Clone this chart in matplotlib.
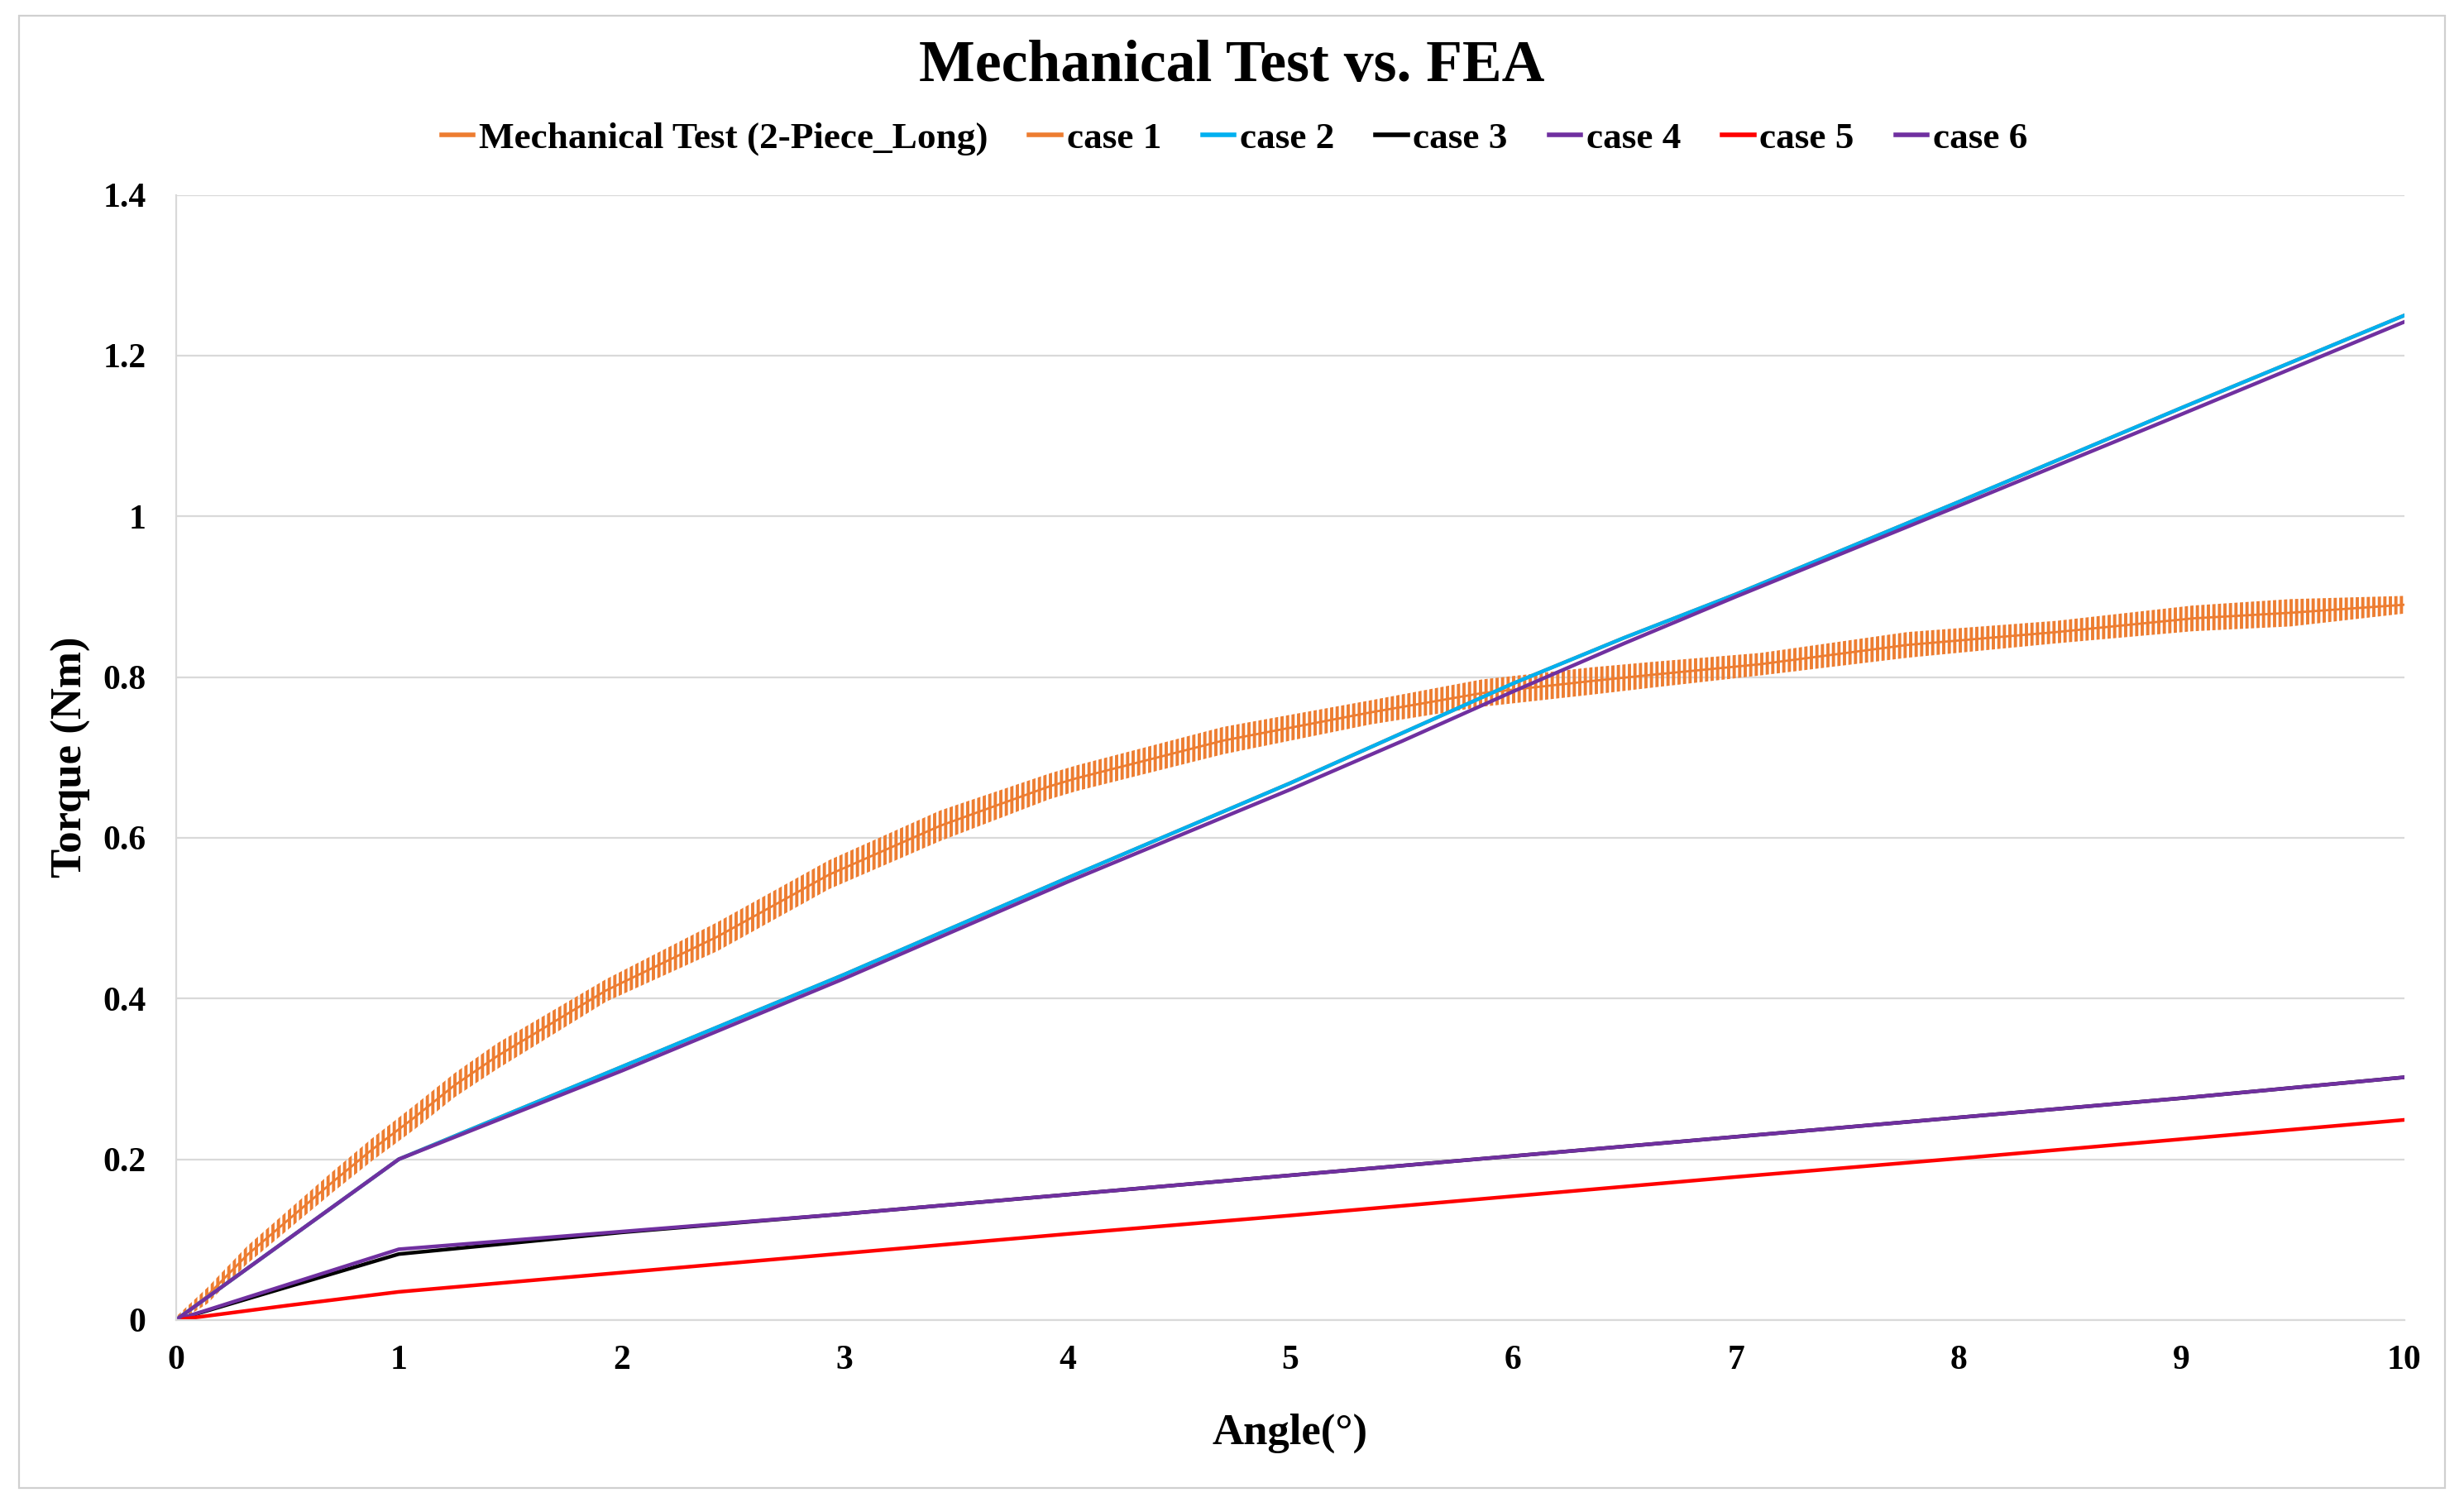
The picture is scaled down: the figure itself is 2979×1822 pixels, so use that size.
import numpy as np
import matplotlib
matplotlib.use("Agg")
from matplotlib import pyplot as plt
from matplotlib.patches import Rectangle

plt.rcParams['font.family'] = ['Liberation Serif', 'DejaVu Serif']
plt.rcParams['font.weight'] = 'bold'
plt.rcParams['axes.labelweight'] = 'bold'
plt.rcParams['hatch.linewidth'] = 1.4

# mechanical test: centre of the band and half its height
mech_angle = [0, 0.14, 0.32, 0.51, 0.70, 0.88, 1.07, 1.25, 1.44, 1.93, 2.43, 2.93,
              3.43, 3.92, 4.04, 4.70, 5.36, 5.86, 6.35, 6.63, 7.11, 7.77, 8.44,
              9.05, 9.49, 10.0]
mech_torque = [0, 0.03, 0.081, 0.126, 0.171, 0.212, 0.252, 0.292, 0.328, 0.41,
               0.477, 0.554, 0.615, 0.664, 0.674, 0.721, 0.756, 0.78, 0.795,
               0.803, 0.816, 0.84, 0.856, 0.873, 0.88, 0.89]
mech_spread = [0.004, 0.01, 0.011, 0.012, 0.013, 0.014, 0.015, 0.015, 0.016,
               0.014, 0.018, 0.018, 0.019, 0.016, 0.016, 0.017, 0.015, 0.017,
               0.017, 0.016, 0.014, 0.016, 0.014, 0.016, 0.017, 0.011]

angle_fea = [0, 1, 2, 3, 4, 5, 5.5, 6, 6.5, 7, 8, 9, 10]
case1 = [0, 0.2, 0.315, 0.43, 0.55, 0.668, 0.73, 0.792, 0.849, 0.903, 1.018, 1.135, 1.25]
case2 = [0, 0.2, 0.315, 0.43, 0.55, 0.668, 0.73, 0.792, 0.849, 0.903, 1.018, 1.135, 1.25]
case6 = [0, 0.2, 0.31, 0.425, 0.545, 0.66, 0.72, 0.782, 0.842, 0.9, 1.013, 1.127, 1.242]

angle_low = [0, 0.5, 1, 2, 3, 4, 5, 6, 7, 8, 9, 10]
case3 = [0, 0.041, 0.082, 0.109, 0.132, 0.156, 0.18, 0.204, 0.228, 0.252, 0.276, 0.302]
case4 = [0, 0.044, 0.088, 0.11, 0.132, 0.156, 0.18, 0.204, 0.228, 0.252, 0.276, 0.302]
case5 = [0, 0.018, 0.035, 0.059, 0.083, 0.107, 0.13, 0.154, 0.178, 0.201, 0.225, 0.249]

ORANGE = '#ED7D31'
CYAN = '#00B0F0'
PURPLE = '#7030A0'
RED = '#FF0000'

fig = plt.figure(figsize=(14.895, 9.11), dpi=200)
fig.patches.append(Rectangle((0.0077, 0.0125), 0.9847, 0.977, transform=fig.transFigure,
                             fill=False, edgecolor='#D0D0D0', linewidth=0.8))
ax = fig.add_axes([0.0714, 0.1241, 0.9044, 0.7466])

lo = np.array(mech_torque) - np.array(mech_spread)
hi = np.array(mech_torque) + np.array(mech_spread)
ax.fill_between(mech_angle, lo, hi, facecolor='none', edgecolor=ORANGE,
                hatch='|||||', linewidth=0)
ax.plot(mech_angle, mech_torque, color=ORANGE, lw=1.0, label='Mechanical Test (2-Piece_Long)')
ax.plot(angle_fea, case1, color=ORANGE, lw=1.6, label='case 1')
ax.plot(angle_fea, case2, color=CYAN, lw=1.6, label='case 2')
ax.plot(angle_low, case3, color='black', lw=1.6, label='case 3')
ax.plot(angle_low, case4, color=PURPLE, lw=1.6, label='case 4')
ax.plot(angle_low, case5, color=RED, lw=1.6, label='case 5')
ax.plot(angle_fea, case6, color=PURPLE, lw=1.6, label='case 6')

ax.set_xlim(0, 10)
ax.set_ylim(0, 1.4)
ax.set_xticks(range(0, 11))
ax.set_yticks([0, 0.2, 0.4, 0.6, 0.8, 1.0, 1.2, 1.4])
ax.set_yticklabels(['0', '0.2', '0.4', '0.6', '0.8', '1', '1.2', '1.4'])
ax.tick_params(length=0, labelsize=15)
ax.tick_params(axis='y', pad=13)
ax.tick_params(axis='x', pad=11)
ax.grid(True, axis='y', color='#D9D9D9', lw=0.8)
ax.set_axisbelow(True)
for s in ['top', 'right']:
    ax.spines[s].set_visible(False)
for s in ['left', 'bottom']:
    ax.spines[s].set_color('#D9D9D9')
    ax.spines[s].set_linewidth(0.8)

ax.set_xlabel('Angle(°)', fontsize=19, fontweight='bold', va='center')
ax.xaxis.set_label_coords(0.5, -0.1006)
ax.set_ylabel('Torque (Nm)', fontsize=19, fontweight='bold', va='center')
ax.yaxis.set_label_coords(-0.047, 0.5)

fig.text(0.5, 0.956, 'Mechanical Test vs. FEA', ha='center', va='center', fontsize=25.8)
leg = fig.legend(loc='center', bbox_to_anchor=(0.501, 0.908), ncol=7, frameon=False,
                 fontsize=16.3, handlelength=0.85, handletextpad=0.15, columnspacing=1.1)
for line in leg.get_lines():
    line.set_linewidth(2.0)

plt.savefig('out.png', dpi=200)
